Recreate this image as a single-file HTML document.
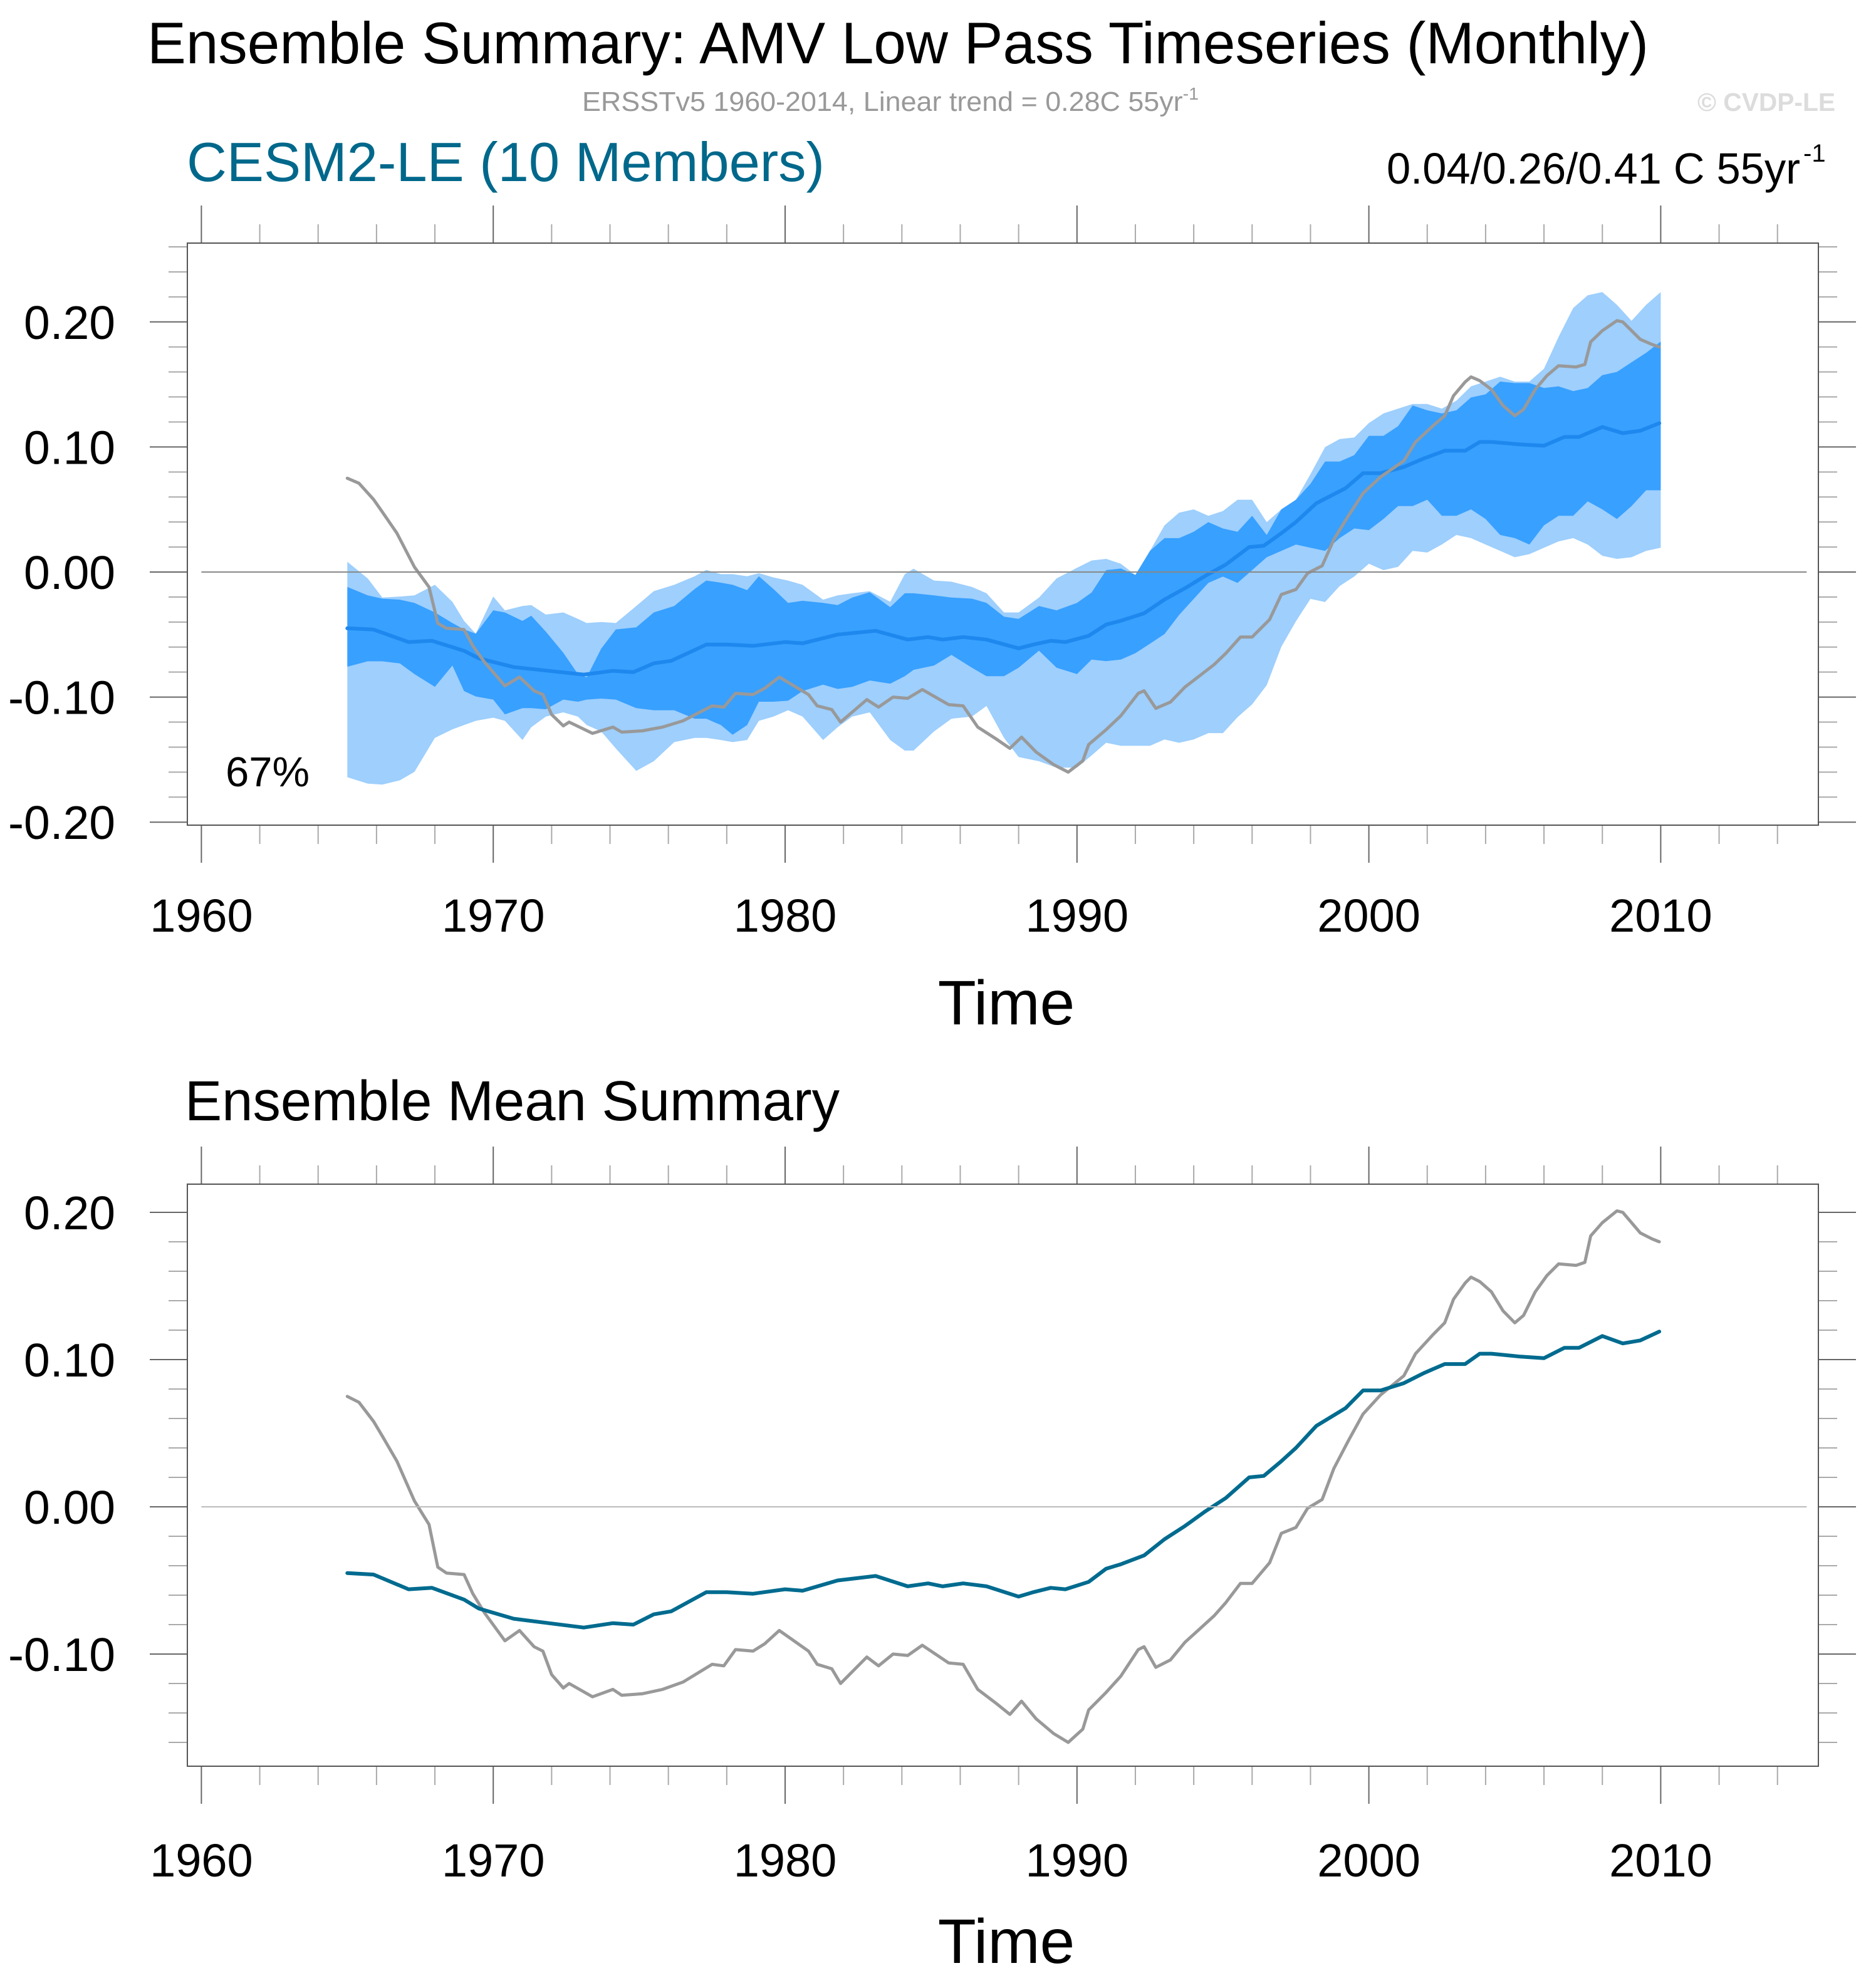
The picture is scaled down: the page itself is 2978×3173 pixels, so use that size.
<!DOCTYPE html>
<html><head><meta charset="utf-8">
<style>
html,body{margin:0;padding:0;background:#fff;}
svg{display:block;font-family:"Liberation Sans",Arial,sans-serif;}
</style></head>
<body>
<svg id="chart" xmlns="http://www.w3.org/2000/svg" width="2978" height="3173" viewBox="0 0 2978 3173">
<rect x="0" y="0" width="2978" height="3173" fill="#fff"/>
<text x="235" y="101" font-size="94" fill="#000" textLength="2396" lengthAdjust="spacingAndGlyphs">Ensemble Summary: AMV Low Pass Timeseries (Monthly)</text>
<text x="929" y="177" font-size="44" fill="#999" textLength="984" lengthAdjust="spacingAndGlyphs">ERSSTv5 1960-2014, Linear trend = 0.28C 55yr<tspan font-size="28" dy="-18">-1</tspan></text>
<text x="2709" y="177" font-size="41" font-weight="bold" fill="#dcdcdc" textLength="220" lengthAdjust="spacingAndGlyphs">© CVDP-LE</text>
<text x="298" y="289" font-size="88" fill="#00688b" textLength="1018" lengthAdjust="spacingAndGlyphs">CESM2-LE (10 Members)</text>
<text x="2213" y="293" font-size="70" fill="#000" textLength="660" lengthAdjust="spacingAndGlyphs">0.04/0.26/0.41 C 55yr</text>
<text x="2878" y="258" font-size="40" fill="#000">-1</text>
<text x="360" y="1255" font-size="67" fill="#000">67%</text>
<text x="295" y="1788" font-size="90" fill="#000" textLength="1045" lengthAdjust="spacingAndGlyphs">Ensemble Mean Summary</text>
<g id="top"></g>
<g id="bot"></g>
</svg>
<script>
// ---- data ----
const obsYears = [1965.0,1965.4,1965.9,1966.2,1966.7,1967.3,1967.8,1968.1,1968.4,1969.0,1969.3,1969.7,1970.4,1970.9,1971.4,1971.7,1972.0,1972.4,1972.6,1973.4,1974.1,1974.4,1975.1,1975.8,1976.5,1977.5,1977.9,1978.3,1978.9,1979.3,1979.8,1980.3,1980.8,1981.1,1981.6,1981.9,1982.3,1982.8,1983.2,1983.7,1984.2,1984.7,1985.0,1985.6,1986.1,1986.6,1987.2,1987.7,1988.1,1988.6,1989.2,1989.7,1990.2,1990.4,1991.0,1991.5,1992.1,1992.3,1992.7,1993.2,1993.7,1994.2,1994.7,1995.1,1995.6,1996.0,1996.6,1997.0,1997.5,1997.9,1998.4,1998.8,1999.3,1999.8,2000.4,2001.2,2001.6,2002.2,2002.6,2002.9,2003.3,2003.5,2003.8,2004.2,2004.6,2005.0,2005.3,2005.7,2006.1,2006.5,2007.1,2007.4,2007.6,2008.0,2008.5,2008.7,2009.3,2009.7,2009.95];
const obsValues = [0.075,0.071,0.058,0.048,0.031,0.004,-0.012,-0.041,-0.045,-0.046,-0.059,-0.072,-0.091,-0.084,-0.095,-0.098,-0.114,-0.123,-0.120,-0.129,-0.124,-0.128,-0.127,-0.124,-0.119,-0.107,-0.108,-0.097,-0.098,-0.093,-0.084,-0.091,-0.098,-0.107,-0.110,-0.120,-0.112,-0.102,-0.108,-0.100,-0.101,-0.094,-0.098,-0.106,-0.107,-0.124,-0.133,-0.141,-0.132,-0.144,-0.154,-0.160,-0.151,-0.138,-0.126,-0.115,-0.097,-0.095,-0.109,-0.104,-0.092,-0.083,-0.074,-0.065,-0.052,-0.052,-0.038,-0.018,-0.014,-0.001,0.005,0.026,0.045,0.063,0.076,0.089,0.104,0.117,0.125,0.141,0.152,0.156,0.153,0.146,0.133,0.125,0.130,0.146,0.157,0.165,0.164,0.166,0.184,0.193,0.201,0.200,0.186,0.182,0.180];
const meanYears = [1965.0,1965.9,1967.1,1967.9,1969.0,1969.5,1970.7,1971.9,1973.1,1974.1,1974.8,1975.5,1976.1,1977.3,1978.0,1978.9,1980.0,1980.6,1981.8,1983.1,1984.2,1984.9,1985.4,1986.1,1986.9,1988.0,1988.5,1989.1,1989.6,1990.4,1991.0,1991.5,1992.3,1993.0,1993.7,1994.4,1995.1,1995.9,1996.4,1997.0,1997.5,1998.2,1999.2,1999.8,2000.4,2001.2,2001.9,2002.6,2003.3,2003.8,2004.2,2005.2,2006.0,2006.7,2007.2,2008.0,2008.7,2009.3,2009.95];
const meanValues = [-0.045,-0.046,-0.056,-0.055,-0.063,-0.069,-0.076,-0.079,-0.082,-0.079,-0.080,-0.073,-0.071,-0.058,-0.058,-0.059,-0.056,-0.057,-0.050,-0.047,-0.054,-0.052,-0.054,-0.052,-0.054,-0.061,-0.058,-0.055,-0.056,-0.051,-0.042,-0.039,-0.033,-0.022,-0.013,-0.003,0.006,0.020,0.021,0.031,0.040,0.055,0.067,0.079,0.079,0.084,0.091,0.097,0.097,0.104,0.104,0.102,0.101,0.108,0.108,0.116,0.111,0.113,0.119];
const bandYears = [1965.0,1965.7,1966.2,1966.8,1967.3,1968.0,1968.6,1969.0,1969.4,1970.0,1970.4,1971.0,1971.3,1971.8,1972.4,1972.9,1973.2,1973.7,1974.2,1974.9,1975.5,1976.2,1976.9,1977.3,1977.8,1978.2,1978.7,1979.1,1979.6,1980.1,1980.6,1981.3,1981.8,1982.3,1982.9,1983.6,1984.1,1984.4,1985.1,1985.7,1986.4,1986.9,1987.5,1988.0,1988.7,1989.3,1990.0,1990.5,
1991.0,1991.5,1992.0,1992.5,1993.0,1993.5,1994.0,1994.5,1995.0,1995.5,1996.0,1996.5,1997.0,1997.5,1998.0,1998.5,1999.0,1999.5,2000.0,2000.5,2001.0,2001.5,2002.0,2002.5,2003.0,2003.5,2004.0,2004.5,2005.0,2005.5,2006.0,2006.5,2007.0,2007.5,2008.0,2008.5,2009.0,2009.5,2010.0];
const maxUpper = [0.0082,-0.0051,-0.0204,-0.0196,-0.0187,-0.0102,-0.0238,-0.0391,-0.0493,-0.0196,-0.0306,-0.0272,-0.0264,-0.034,-0.0323,-0.0374,-0.0408,-0.04,-0.0408,-0.0272,-0.0153,-0.0102,-0.0034,0.0017,-0.0017,-0.0017,-0.0034,-0.0009,-0.0043,-0.0068,-0.0102,-0.0221,-0.0187,-0.017,-0.0153,-0.0238,-0.0017,0.0026,-0.0068,-0.0077,-0.0119,-0.017,-0.0323,-0.0323,-0.0204,-0.0051,0.0034,0.0092,
0.0105,0.0066,-0.0023,0.0169,0.0373,0.0475,0.0501,0.045,0.0488,0.0578,0.0578,0.0399,0.0501,0.0578,0.0782,0.0999,0.1063,0.1076,0.1191,0.1268,0.1306,0.1344,0.1344,0.1306,0.137,0.1485,0.1523,0.1562,0.1523,0.1523,0.1626,0.1881,0.2111,0.2213,0.2239,0.2137,0.2009,0.2137,0.2239];
const p67Upper = [-0.0119,-0.0187,-0.0213,-0.0221,-0.0247,-0.0323,-0.0408,-0.0459,-0.0493,-0.0306,-0.0323,-0.0391,-0.0349,-0.0476,-0.0646,-0.0816,-0.0842,-0.0612,-0.0459,-0.0442,-0.0323,-0.0272,-0.0136,-0.0068,-0.0085,-0.0102,-0.0145,-0.0034,-0.0136,-0.0247,-0.023,-0.0247,-0.0264,-0.0204,-0.0162,-0.0281,-0.017,-0.017,-0.0187,-0.0204,-0.0213,-0.0247,-0.0357,-0.0374,-0.0272,-0.0306,-0.0247,-0.0164,
0.0015,0.0028,-0.0023,0.0169,0.0271,0.0271,0.0322,0.0399,0.0348,0.0322,0.045,0.0296,0.0501,0.0578,0.0705,0.0884,0.0884,0.0935,0.1089,0.1089,0.1166,0.1332,0.1293,0.1268,0.1293,0.1396,0.1421,0.1523,0.1511,0.1511,0.1472,0.1485,0.1447,0.1472,0.1574,0.16,0.1677,0.1753,0.1843];
const p67Lower = [-0.0757,-0.0714,-0.0714,-0.0731,-0.0816,-0.0918,-0.0748,-0.0952,-0.0995,-0.102,-0.1139,-0.1088,-0.1088,-0.1097,-0.102,-0.1037,-0.102,-0.1012,-0.102,-0.1088,-0.1105,-0.1105,-0.1173,-0.1173,-0.1224,-0.1301,-0.1224,-0.1037,-0.1037,-0.1029,-0.0952,-0.0901,-0.0935,-0.0918,-0.0867,-0.0893,-0.0833,-0.0782,-0.0748,-0.0663,-0.0765,-0.0833,-0.0833,-0.0765,-0.0629,-0.0765,-0.0816,-0.07,
-0.0713,-0.07,-0.0649,-0.0573,-0.0496,-0.0343,-0.0215,-0.0087,-0.0036,-0.0087,0.0015,0.0118,0.0169,0.022,0.0194,0.0169,0.0271,0.0348,0.0335,0.0424,0.0527,0.0527,0.0578,0.045,0.045,0.0501,0.0424,0.0296,0.0271,0.022,0.0373,0.045,0.045,0.0565,0.0501,0.0424,0.0527,0.0654,0.0654];
const minLower = [-0.1641,-0.1692,-0.17,-0.1666,-0.1598,-0.1326,-0.1258,-0.1224,-0.119,-0.1165,-0.119,-0.1343,-0.1241,-0.1156,-0.1122,-0.1156,-0.1224,-0.1275,-0.1411,-0.159,-0.1513,-0.136,-0.1326,-0.1326,-0.1343,-0.136,-0.1343,-0.119,-0.1156,-0.1105,-0.1156,-0.1343,-0.1241,-0.1156,-0.1122,-0.1343,-0.1428,-0.1428,-0.1275,-0.1173,-0.1156,-0.1071,-0.1326,-0.1479,-0.1513,-0.1564,-0.1564,-0.1467,
-0.1365,-0.139,-0.139,-0.139,-0.1339,-0.1365,-0.1339,-0.1288,-0.1288,-0.1161,-0.1058,-0.0905,-0.0598,-0.0394,-0.0215,-0.024,-0.0112,-0.0036,0.0066,0.0015,0.0041,0.0169,0.0156,0.022,0.0296,0.0271,0.022,0.0169,0.0118,0.0143,0.0194,0.0245,0.0271,0.022,0.013,0.0105,0.0118,0.0169,0.0194];
const xTickLabels = ["1960","1970","1980","1990","2000","2010"];
const yTickTop = ["0.20","0.10","0.00","-0.10","-0.20"];
const yTickBot = ["0.20","0.10","0.00","-0.10"];

// ---- layout ----
const NS = "http://www.w3.org/2000/svg";
const X0 = 321.4, PXY = 46.58;
function xs(yr){ return X0 + (yr - 1960) * PXY; }
const FL = 299, FR = 2902;
const panels = {
  top: {g: document.getElementById('top'), y0: 913, per: 1996, top: 388, bot: 1317, vmin: -0.2, vmax: 0.26, labels: yTickTop, xlabY: 1487, timeY: 1635},
  bot: {g: document.getElementById('bot'), y0: 2405, per: 2350, top: 1890, bot: 2819, vmin: -0.16, vmax: 0.2, labels: yTickBot, xlabY: 2995, timeY: 3133}
};
function el(tag, attrs, parent){ const e = document.createElementNS(NS, tag); for (const k in attrs) e.setAttribute(k, attrs[k]); parent.appendChild(e); return e; }
function linePath(p, xsArr, vs){ return xsArr.map((t,i)=>(i?'L':'M')+xs(t).toFixed(1)+' '+(p.y0 - vs[i]*p.per).toFixed(1)).join(' '); }
function bandPath(p, xsArr, up, lo){
  let d = xsArr.map((t,i)=>(i?'L':'M')+xs(t).toFixed(1)+' '+(p.y0 - up[i]*p.per).toFixed(1)).join(' ');
  for (let i = xsArr.length-1; i >= 0; i--) d += ' L'+xs(xsArr[i]).toFixed(1)+' '+(p.y0 - lo[i]*p.per).toFixed(1);
  return d + ' Z';
}

function drawAxes(key){
  const p = panels[key], g = p.g;
  // zero line
  const z = el('line', {x1: xs(1960), x2: xs(2015), y1: p.y0, y2: p.y0, stroke: key==='top' ? '#888' : '#bbb', 'stroke-width': 2}, g);
  
  
  // y ticks
  for (let k = Math.round(p.vmin*50); k <= Math.round(p.vmax*50); k++){
    const v = k/50, y = p.y0 - v*p.per, major = (k % 5 === 0);
    const len = major ? 60 : 30;
    const t1 = el('line', {x1: FL-len, x2: FL, y1: y, y2: y, stroke: major ? '#666' : '#aaa', 'stroke-width': 2}, g);
    
    
    const t2 = el('line', {x1: FR, x2: FR+len, y1: y, y2: y, stroke: major ? '#666' : '#aaa', 'stroke-width': 2}, g);
    
    
  }
  p.labels.forEach(s=>{
    const v = parseFloat(s);
    const t = el('text', {x: 184, y: p.y0 - v*p.per + 27, 'font-size': 75, 'text-anchor': 'end', fill: '#000'}, g);
    
    
    t.textContent = s;
  });
  // x ticks
  for (let yr = 1960; yr <= 2014; yr += 2){
    const x = xs(yr), major = (yr % 10 === 0), len = major ? 60 : 30;
    const a = el('line', {x1: x, x2: x, y1: p.top-len, y2: p.top, stroke: major ? '#666' : '#aaa', 'stroke-width': 2}, g);
    
    
    const b = el('line', {x1: x, x2: x, y1: p.bot, y2: p.bot+len, stroke: major ? '#666' : '#aaa', 'stroke-width': 2}, g);
    
    
  }
  xTickLabels.forEach(s=>{
    const t = el('text', {x: xs(+s), y: p.xlabY, 'font-size': 74, 'text-anchor': 'middle', fill: '#000'}, g);
    
    
    t.textContent = s;
  });
  const tt = el('text', {x: 1606, y: p.timeY, 'font-size': 100, 'text-anchor': 'middle', fill: '#000'}, g);
  
  
  tt.textContent = 'Time';
  const fr = el('rect', {x: FL, y: p.top, width: FR-FL, height: p.bot-p.top, fill: 'none', stroke: '#555', 'stroke-width': 2}, g);
  
  
}

// top panel series
(function(){
  const p = panels.top, g = p.g;
  const b1 = el('path', {d: bandPath(p, bandYears, maxUpper, minLower), fill: '#9ecffd'}, g);
  
  
  const b2 = el('path', {d: bandPath(p, bandYears, p67Upper, p67Lower), fill: '#38a0ff'}, g);
  
  
  const m = el('path', {d: linePath(p, meanYears, meanValues), fill: 'none', stroke: '#1e88ee', 'stroke-width': 6, 'stroke-linejoin': 'round', 'stroke-linecap': 'round'}, g);
  
  
  const o = el('path', {d: linePath(p, obsYears, obsValues), fill: 'none', stroke: '#999', 'stroke-width': 5, 'stroke-linejoin': 'round', 'stroke-linecap': 'round'}, g);
  
  
})();
drawAxes('top');
// bottom panel series
(function(){
  const p = panels.bot, g = p.g;
  const o = el('path', {d: linePath(p, obsYears, obsValues), fill: 'none', stroke: '#999', 'stroke-width': 5, 'stroke-linejoin': 'round', 'stroke-linecap': 'round'}, g);
  
  
  const m = el('path', {d: linePath(p, meanYears, meanValues), fill: 'none', stroke: '#006b8f', 'stroke-width': 6, 'stroke-linejoin': 'round', 'stroke-linecap': 'round'}, g);
  
  
})();
drawAxes('bot');
</script>
</body></html>
